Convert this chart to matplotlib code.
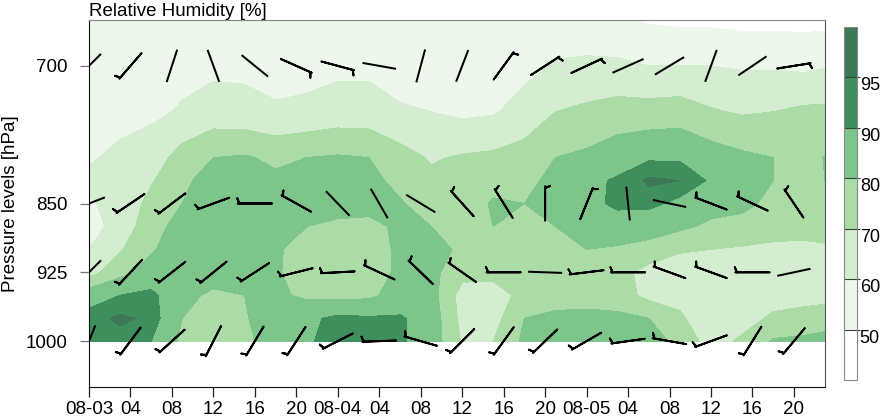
import numpy as np
import matplotlib
matplotlib.use('Agg')
import matplotlib.pyplot as plt

plt.rcParams['font.family'] = ['Liberation Sans', 'DejaVu Sans']

#------------------------------------------------------------------------
# DATA
# hours since 08-03 00:00
hours = np.arange(0, 73, 3)
plev = [650, 700, 750, 800, 825, 850, 875, 900, 925, 950, 975, 1000]

# relative humidity [%], one column per time step, top (650) -> bottom (1000)
rh_by_hour = [
    [55, 56, 57, 59, 62, 59, 56, 60, 66, 86, 93, 93],   # 0
    [55, 56, 57, 62, 64, 63, 64, 69, 77, 90, 96, 93],   # 3
    [55, 56, 58, 65, 69, 73, 76, 79, 84, 92, 94, 90],   # 6
    [55, 57, 61, 74, 78, 80, 84, 85, 86, 83, 80, 78],   # 9
    [55, 58, 64, 80, 84, 86, 87, 87, 85, 78, 74, 73],   # 12
    [55, 58, 63, 81, 85, 87, 88, 88, 86, 80, 79, 77],   # 15
    [55, 57, 61, 78, 82, 84, 81, 81, 81, 82, 86, 86],   # 18
    [55, 57, 62, 80, 82, 83, 80, 77, 76, 78, 88, 89],   # 21
    [55, 58, 64, 81, 83, 84, 78, 76, 75, 77, 92, 93],   # 24
    [55, 58, 64, 80, 83, 84, 77, 75, 75, 78, 91, 92],   # 27
    [54, 56, 61, 74, 77, 81, 82, 82, 82, 84, 91, 91],   # 30
    [54, 56, 60, 69, 72, 75, 80, 82, 83, 84, 86, 86],   # 33
    [54, 55, 58, 71, 73, 75, 76, 79, 73, 66, 67, 69],   # 36
    [54, 56, 59, 72, 77, 81, 80, 76, 72, 67, 66, 70],   # 39
    [54, 57, 64, 74, 77, 80, 77, 75, 74, 72, 80, 82],   # 42
    [54, 61, 70, 80, 83, 84, 80, 76, 75, 76, 82, 84],   # 45
    [53, 62, 72, 82, 88, 87, 84, 80, 76, 77, 82, 85],   # 48
    [51, 62, 74, 86, 91, 92, 85, 79, 74, 75, 82, 84],   # 51
    [49, 60, 74, 89, 96, 92, 84, 77, 66, 67, 80, 83],   # 54
    [48, 60, 75, 89, 95, 88, 82, 71, 65, 66, 72, 78],   # 57
    [48, 60, 71, 85, 89, 84, 78, 70, 64, 62, 61, 65],   # 60
    [47, 59, 69, 82, 84, 83, 76, 69, 63, 63, 65, 72],   # 63
    [47, 59, 70, 80, 80, 77, 74, 68, 64, 65, 72, 81],   # 66
    [47, 58, 72, 77, 78, 76, 73, 68, 64, 66, 74, 82],   # 69
    [47, 60, 72, 82, 81, 77, 74, 69, 64, 67, 76, 84],   # 72
]

rh_levels = [0, 50, 60, 70, 80, 90, 95, 101]
rh_colors = ['#ffffff', '#edf7eb', '#d4edd0', '#abdca6',
             '#7ec58b', '#3e8e5e', '#3c7756']

tick_hours = np.arange(0, 72, 4)
tick_labels = ['08-03', '04', '08', '12', '16', '20',
               '08-04', '04', '08', '12', '16', '20',
               '08-05', '04', '08', '12', '16', '20']

# wind barbs every 4 h: direction (deg, from) and speed
barb_hours = np.arange(0, 72, 4)
barb_levels = [700, 850, 925, 1000]
dir_700 = [225, 221, 198, 160, 129, 114, 105, 100, 15, 21, 36, 57, 65, 66, 59, 20, 56, 81]
spd_700 = [2, 6, 2, 2, 2, 6, 6, 2, 2, 2, 6, 6, 6, 2, 2, 2, 2, 6]
dir_850 = [249, 236, 233, 250, 270, 299, 316, 330, 301, 318, 328, 0, 22, 354, 282, 291, 295, 326]
spd_850 = [2, 6, 6, 6, 6, 6, 2, 2, 2, 6, 6, 6, 6, 2, 2, 6, 6, 6]
dir_925 = [225, 223, 232, 231, 237, 256, 267, 295, 314, 305, 270, 272, 263, 270, 290, 290, 270, 258]
spd_925 = [2, 6, 6, 6, 6, 6, 6, 6, 6, 6, 6, 2, 6, 6, 6, 6, 6, 2]
dir_1000 = [202, 217, 228, 207, 211, 213, 243, 268, 286, 225, 216, 226, 240, 262, 280, 250, 212, 220]
spd_1000 = [2, 6, 6, 6, 6, 6, 6, 6, 6, 6, 6, 6, 6, 6, 6, 6, 6, 6]
#------------------------------------------------------------------------

#------------------------------------------------------------------------
# FIGURE
fs = 13.5
fig = plt.figure(figsize=(8.8, 4.18), dpi=100)
ax = fig.add_axes([89 / 880, 31 / 418, 736 / 880, 367 / 418])

rh = np.array(rh_by_hour, dtype=float).T
cf = ax.contourf(hours, plev, rh, levels=rh_levels, colors=rh_colors)

# barbs (quiver draws the staff of barbs too weak to carry a feather)
dirs = [dir_700, dir_850, dir_925, dir_1000]
spds = [spd_700, spd_850, spd_925, spd_1000]
for lev, wd, ws in zip(barb_levels, dirs, spds):
    wd = np.radians(wd)
    ws = np.array(ws, dtype=float)
    u = -ws * np.sin(wd)
    v = -ws * np.cos(wd)
    y = np.full(len(barb_hours), lev)
    ax.barbs(barb_hours, y, u, v, length=7, pivot='middle', color='black',
             linewidth=1.4, sizes=dict(emptybarb=0, spacing=0.03, height=0.3),
             zorder=3)
    calm = ws < 2.5
    ax.quiver(barb_hours[calm], y[calm], u[calm] / ws[calm], v[calm] / ws[calm],
              pivot='mid', angles='uv', scale_units='dots', scale=1 / 34.,
              units='dots', width=2, headwidth=0, headlength=0,
              headaxislength=0, color='black', zorder=3)

ax.set_xlim(0, 71)
ax.set_ylim(1050, 650)
ax.set_xticks(tick_hours)
ax.set_xticklabels(tick_labels)
ax.set_yticks([700, 850, 925, 1000])
ax.set_yticklabels(['700', '850', '925', '1000'])
ax.tick_params(axis='x', length=7, width=0.9, pad=3, labelsize=fs, color='#222')
ax.tick_params(axis='y', length=6.5, width=0.9, pad=9, labelsize=fs, color='#777')
ax.set_ylabel('Pressure levels [hPa]', fontsize=fs, labelpad=5)
ax.set_title('Relative Humidity [%]', loc='left', fontsize=fs, pad=2)
ax.spines['left'].set_color('#111')
ax.spines['bottom'].set_color('#111')
ax.spines['top'].set_color('#888')
ax.spines['right'].set_color('#555')

# colour bar
cax = fig.add_axes([844 / 880, 38 / 418, 13 / 880, 353 / 418])
cb = fig.colorbar(cf, cax=cax, ticks=[50, 60, 70, 80, 90, 95], drawedges=True)
cb.outline.set_edgecolor('#888')
cb.outline.set_linewidth(0.8)
cb.dividers.set_color('#2d4a35')
cb.dividers.set_linewidth(0.8)
cax.tick_params(length=2, width=0.8, pad=0, labelsize=13, color='#333')
plt.setp(cax.get_yticklabels(), va='top')

fig.savefig('out.png', dpi=100)
#------------------------------------------------------------------------
